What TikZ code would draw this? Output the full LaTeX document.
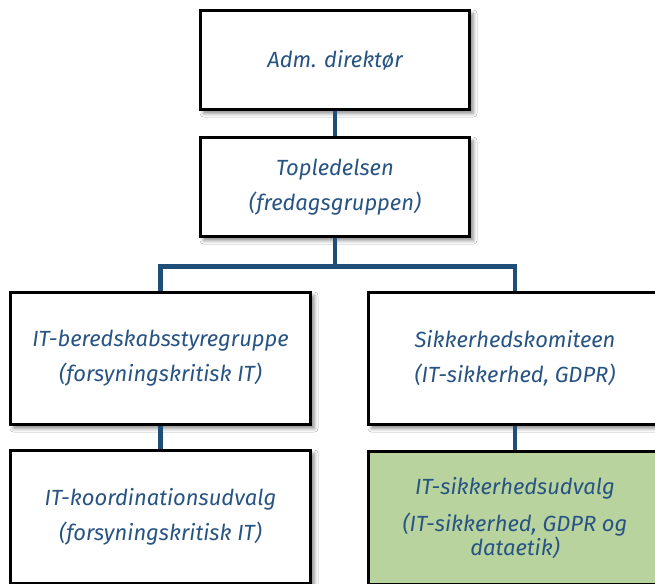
\documentclass[tikz,border=0pt]{standalone}
\usepackage{fontspec}
\setmainfont{Fira Sans}
\usetikzlibrary{shadows.blur}
\usetikzlibrary{calc}

\definecolor{orgblue}{RGB}{31,78,121}
\definecolor{orgtext}{RGB}{40,84,132}
\definecolor{orggreen}{RGB}{184,211,157}

\begin{document}
\begin{tikzpicture}[
    x=0.02cm, y=-0.02cm,
    unit/.style={draw=black,line width=1.7pt,fill=white,align=center,
        text=orgtext,font=\fontsize{12.5}{20}\selectfont\itshape,
        blur shadow={shadow xshift=2pt,shadow yshift=-2pt,
            shadow blur radius=2pt,shadow opacity=45},
        inner sep=0pt},
    top unit/.style={unit,minimum width=5.4cm,minimum height=2cm},
    wide unit/.style={unit,minimum width=6.02cm,minimum height=2.66cm},
    link/.style={line width=2.6pt,orgblue}
    ]
    % frame
    \clip (0,0) rectangle (655,584);
    \fill[white] (0,0) rectangle (655,584);
    % nodes
    % ledelse
    \node [top unit] (direktor) at (335,60) {Adm. direktør};
    \node [top unit] (topledelse) at (335,187) {Topledelsen\\(fredagsgruppen)};
    % venstre gren
    \node [wide unit] (beredskab) at (160.5,358.5) {IT-beredskabsstyregruppe\\(forsyningskritisk IT)};
    \node [wide unit] (koordination) at (160.5,516.5) {IT-koordinationsudvalg\\(forsyningskritisk IT)};
    % hoejre gren
    \node [wide unit,minimum width=5.88cm] (komite) at (515,358.5) {Sikkerhedskomiteen\\(IT-sikkerhed, GDPR)};
    \node [wide unit,minimum width=5.88cm,fill=orggreen] (udvalg) at (515,518) {IT-sikkerhedsudvalg\\[1pt](IT-sikkerhed, GDPR og\\[-6pt]dataetik)};
    % links
    \coordinate (bar) at ($(topledelse.south)+(0,28)$);
    \draw [link] (direktor.south) -- (topledelse.north);
    \draw [link] (topledelse.south) -- (bar) -| (beredskab.north);
    \draw [link] (bar) -| (komite.north);
    \draw [link] (beredskab.south) -- (koordination.north);
    \draw [link] (komite.south) -- (udvalg.north);
\end{tikzpicture}
\end{document}
